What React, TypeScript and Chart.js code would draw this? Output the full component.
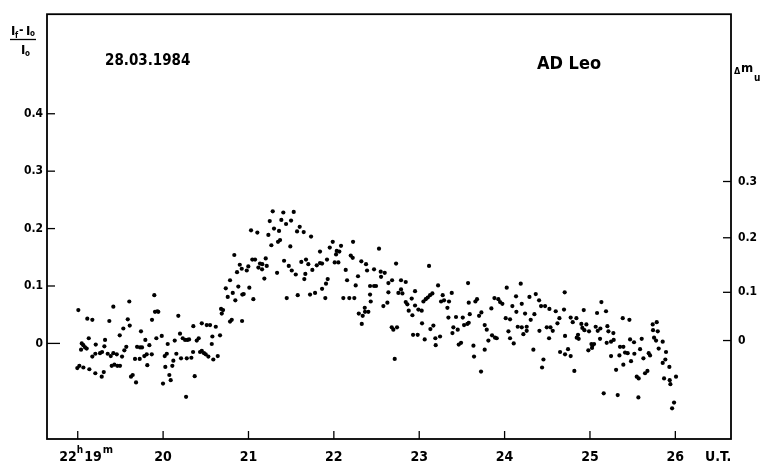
import { useEffect, useRef } from 'react';
import { Chart, registerables } from 'chart.js';

Chart.register(...registerables);

// Time axis (minutes after 22h, U.T.)
const xTickValues = [19, 20, 21, 22, 23, 24, 25, 26];
const xTickLabels = ['', '20', '21', '22', '23', '24', '25', '26'];
const xMin = 18.64;
const xMax = 26.652;

// Left axis: relative intensity (If - Io)/Io
const leftTickValues = [0, 0.1, 0.2, 0.3, 0.4];
const leftTickLabels = ['0', '0.1', '0.2', '0.3', '0.4'];
const yMin = -0.1665;
const yMax = 0.5734;

// Right axis: magnitude Δm_u, tick positions expressed in intensity units
const magTickValues = [0.005, 0.089, 0.184, 0.282];
const magTickLabels = ['0', '0.1', '0.2', '0.3'];

// Observations [minute, intensity]
const obs19to20: number[][] = [
  [19.007, 0.058], [19.112, 0.043], [19.171, 0.041], [19.417, 0.064], [19.604, 0.073], [19.897, 0.084],
  [19.905, 0.055], [19.932, 0.056], [19.944, 0.055], [19.370, 0.039], [19.586, 0.042], [19.870, 0.041],
  [20.178, 0.048], [19.534, 0.026], [19.609, 0.031], [19.741, 0.021], [19.129, 0.009], [19.047, 0.000],
  [19.066, -0.003], [19.086, -0.007], [19.105, -0.009], [19.039, -0.011], [19.211, -0.002], [19.320, 0.006],
  [19.312, -0.005], [19.261, -0.017], [19.285, -0.015], [19.206, -0.018], [19.171, -0.023], [19.351, -0.018],
  [19.387, -0.022], [19.417, -0.017], [19.457, -0.019], [19.519, -0.023], [19.546, -0.012], [19.569, -0.006],
  [19.492, 0.014], [19.695, -0.006], [19.730, -0.007], [19.753, -0.007], [19.792, 0.006], [19.839, -0.003],
  [19.921, 0.009], [19.984, 0.013], [20.054, -0.001], [20.136, 0.005], [20.198, 0.017], [20.230, 0.009],
  [20.257, 0.006], [20.284, 0.006], [20.304, 0.007], [20.354, 0.030], [20.394, 0.005], [20.417, 0.009],
  [19.671, -0.027], [19.726, -0.027], [19.780, -0.022], [19.808, -0.019], [19.867, -0.019], [19.815, -0.038],
  [20.019, -0.022], [20.043, -0.018], [20.026, -0.041], [20.120, -0.030], [20.108, -0.039], [20.155, -0.018],
  [20.210, -0.026], [20.277, -0.026], [20.331, -0.025], [20.351, -0.015], [18.995, -0.043], [19.019, -0.039],
  [19.066, -0.042], [19.136, -0.045], [19.206, -0.052], [19.281, -0.058], [19.305, -0.050], [19.398, -0.039],
  [19.429, -0.037], [19.464, -0.039], [19.495, -0.039], [19.624, -0.058], [19.644, -0.055], [19.683, -0.068],
  [19.999, -0.070], [20.073, -0.055], [20.089, -0.064], [20.269, -0.093], [20.370, -0.057],
];

const obs20to22: number[][] = [
  [21.284, 0.230], [21.408, 0.228], [21.530, 0.229], [21.249, 0.213], [21.385, 0.215], [21.440, 0.208],
  [21.499, 0.214], [21.600, 0.203], [21.569, 0.195], [21.647, 0.194], [21.030, 0.197], [21.104, 0.193],
  [21.299, 0.200], [21.358, 0.196], [21.233, 0.189], [21.346, 0.177], [21.370, 0.180], [21.268, 0.171],
  [21.733, 0.186], [21.490, 0.169], [20.834, 0.154], [21.045, 0.146], [21.077, 0.146], [21.202, 0.148],
  [20.898, 0.137], [20.921, 0.130], [20.866, 0.124], [20.998, 0.134], [20.980, 0.127], [21.135, 0.139],
  [21.162, 0.138], [21.116, 0.132], [21.159, 0.129], [21.214, 0.135], [21.186, 0.113], [21.335, 0.123],
  [21.417, 0.144], [21.472, 0.135], [21.507, 0.127], [21.554, 0.120], [21.619, 0.142], [21.674, 0.146],
  [21.701, 0.138], [21.666, 0.121], [21.654, 0.112], [21.748, 0.128], [21.800, 0.136], [21.838, 0.140],
  [21.862, 0.139], [21.920, 0.146], [21.838, 0.160], [21.952, 0.167], [21.987, 0.177], [22.026, 0.155],
  [22.034, 0.161], [22.064, 0.160], [22.084, 0.170], [22.225, 0.177], [22.198, 0.153], [22.221, 0.149],
  [22.010, 0.141], [22.053, 0.141], [22.139, 0.128], [21.928, 0.112], [21.908, 0.104], [21.862, 0.095],
  [21.780, 0.088], [21.721, 0.085], [21.577, 0.084], [21.448, 0.079], [21.900, 0.079], [22.111, 0.079],
  [22.181, 0.079], [22.240, 0.079], [22.283, 0.117], [22.322, 0.143], [22.377, 0.138], [22.389, 0.127],
  [22.155, 0.110], [22.256, 0.101], [22.362, 0.062], [22.365, 0.055], [22.404, 0.055], [22.292, 0.052],
  [22.338, 0.048], [22.327, 0.034], [20.784, 0.110], [20.734, 0.096], [20.816, 0.088], [20.881, 0.099],
  [20.944, 0.086], [20.928, 0.085], [21.010, 0.097], [20.757, 0.081], [20.846, 0.075], [21.057, 0.077],
  [20.679, 0.060], [20.702, 0.058], [20.687, 0.052], [20.784, 0.038], [20.804, 0.041], [20.925, 0.039],
  [20.453, 0.035], [20.511, 0.032], [20.550, 0.032], [20.617, 0.029], [20.577, 0.012], [20.667, 0.014],
  [20.570, -0.001], [20.453, -0.013], [20.479, -0.017], [20.499, -0.019], [20.530, -0.023], [20.588, -0.028],
  [20.640, -0.022], [20.433, -0.015],
];

const obs22to24: number[][] = [
  [22.529, 0.165], [22.471, 0.129], [22.549, 0.125], [22.596, 0.123], [22.553, 0.116], [22.424, 0.100],
  [22.471, 0.100], [22.494, 0.100], [22.729, 0.139], [23.115, 0.135], [22.639, 0.105], [22.682, 0.110],
  [22.787, 0.110], [22.842, 0.107], [22.424, 0.085], [22.432, 0.073], [22.639, 0.089], [22.627, 0.071],
  [22.580, 0.065], [22.756, 0.088], [22.803, 0.087], [22.787, 0.094], [22.951, 0.091], [22.912, 0.078],
  [22.842, 0.072], [22.861, 0.068], [22.877, 0.057], [22.920, 0.049], [22.951, 0.066], [22.990, 0.059],
  [23.029, 0.057], [23.049, 0.073], [23.076, 0.077], [23.100, 0.080], [23.127, 0.084], [23.154, 0.087],
  [23.221, 0.101], [23.275, 0.084], [23.256, 0.073], [23.291, 0.075], [23.349, 0.073], [23.381, 0.088],
  [23.330, 0.062], [23.342, 0.045], [23.572, 0.105], [23.580, 0.071], [23.658, 0.073], [23.677, 0.077],
  [23.592, 0.051], [23.431, 0.046], [23.510, 0.045], [23.580, 0.036], [23.451, 0.024], [23.400, 0.028],
  [23.389, 0.018], [23.728, 0.054], [23.701, 0.048], [23.767, 0.032], [23.791, 0.024], [23.463, -0.002],
  [23.490, 0.001], [23.525, 0.032], [23.564, 0.034], [23.635, -0.004], [23.033, 0.035], [22.678, 0.028],
  [22.697, 0.024], [22.740, 0.028], [22.928, 0.015], [22.982, 0.015], [23.064, 0.007], [23.131, 0.025],
  [23.166, 0.031], [23.189, 0.009], [23.244, 0.012], [23.193, -0.003], [22.713, -0.027], [23.642, -0.023],
  [23.767, -0.011], [23.810, 0.005], [23.853, 0.014], [23.888, 0.010], [23.908, 0.009], [23.881, 0.079],
  [23.927, 0.077], [23.947, 0.072], [23.974, 0.069], [23.845, 0.061], [24.025, 0.097], [24.013, 0.044],
  [24.064, 0.042], [24.045, 0.021], [24.064, 0.009], [24.107, 0.000], [24.091, 0.065], [24.138, 0.055],
  [24.134, 0.082], [24.189, 0.104], [24.201, 0.069], [24.154, 0.029], [24.201, 0.028], [24.259, 0.029],
  [24.240, 0.052], [24.220, 0.016], [24.291, 0.081], [24.365, 0.086], [24.349, 0.051], [24.306, 0.041],
  [24.259, 0.022], [24.404, 0.075], [24.427, 0.065], [24.474, 0.065], [24.408, 0.022], [24.337, -0.011],
  [24.455, -0.028], [24.439, -0.042], [24.494, 0.028], [24.537, 0.028], [24.564, 0.022], [24.525, 0.060],
  [24.521, 0.009], [24.599, 0.056], [24.619, 0.035], [24.642, 0.044], [23.724, -0.049],
];

const obs24to26: number[][] = [
  [24.704, 0.089], [24.696, 0.059], [25.134, 0.072], [24.927, 0.058], [25.083, 0.053], [25.188, 0.056],
  [24.774, 0.045], [24.798, 0.037], [24.841, 0.044], [24.899, 0.034], [24.958, 0.033], [24.911, 0.027],
  [24.935, 0.023], [24.989, 0.021], [25.067, 0.029], [25.091, 0.022], [25.122, 0.026], [25.118, 0.008],
  [25.204, 0.030], [25.216, 0.021], [25.274, 0.018], [24.860, 0.015], [24.845, 0.010], [24.868, 0.008],
  [24.708, 0.013], [25.017, -0.001], [25.028, -0.004], [25.048, -0.001], [25.024, -0.008], [25.196, 0.001],
  [25.247, 0.003], [25.278, 0.006], [24.981, -0.012], [24.650, -0.015], [24.708, -0.019], [24.743, -0.010],
  [24.774, -0.022], [25.384, 0.044], [25.462, 0.041], [25.735, 0.033], [25.782, 0.037], [25.739, 0.023],
  [25.794, 0.021], [25.751, 0.010], [25.774, 0.005], [25.852, 0.003], [25.470, 0.007], [25.516, 0.002],
  [25.606, 0.008], [25.352, -0.006], [25.391, -0.006], [25.411, -0.016], [25.442, -0.017], [25.587, -0.010],
  [25.247, -0.022], [25.345, -0.021], [25.520, -0.018], [25.688, -0.017], [25.704, -0.021], [25.626, -0.026],
  [25.481, -0.031], [25.391, -0.037], [25.805, -0.009], [25.891, -0.015], [25.883, -0.028], [25.852, -0.034],
  [25.930, -0.041], [25.306, -0.046], [25.673, -0.048], [25.645, -0.052], [25.548, -0.058], [25.571, -0.061],
  [25.868, -0.061], [25.934, -0.064], [25.942, -0.071], [26.008, -0.058], [24.817, -0.048], [25.161, -0.087],
  [25.325, -0.090], [25.567, -0.094], [25.985, -0.103], [25.962, -0.113],
];

const FONT = "'Liberation Sans Narrow', 'DejaVu Sans Condensed', 'Liberation Sans', Arial, sans-serif";

const framePlugin = {
  id: 'framePlugin',
  afterDraw(chart: any) {
    const { ctx, chartArea: a, scales } = chart;
    const xs = scales.x;
    const ys = scales.y;
    const ys2 = scales.y2;
    ctx.save();
    ctx.strokeStyle = '#000';
    ctx.fillStyle = '#000';
    ctx.lineWidth = 1.8;
    ctx.strokeRect(a.left, a.top, a.right - a.left, a.bottom - a.top);

    ctx.lineWidth = 1.3;
    const line = (x1: number, y1: number, x2: number, y2: number) => {
      ctx.beginPath();
      ctx.moveTo(x1, y1);
      ctx.lineTo(x2, y2);
      ctx.stroke();
    };
    xs.ticks.forEach((t: any) => {
      const px = xs.getPixelForValue(t.value);
      line(px, a.bottom, px, a.bottom - 8);
    });
    ys.ticks.forEach((t: any) => {
      const py = ys.getPixelForValue(t.value);
      line(a.left, py, a.left + (t.value === 0 ? 13 : 8), py);
    });
    ys2.ticks.forEach((t: any) => {
      const py = ys2.getPixelForValue(t.value);
      line(a.right, py, a.right - 8, py);
    });

    // First time label 22h19m
    const labelY = xs.top + 10 + 8.4;
    const p19 = xs.getPixelForValue(19);
    ctx.textBaseline = 'middle';
    ctx.font = `bold 14px ${FONT}`;
    ctx.textAlign = 'right';
    ctx.fillText('22', p19 - 1, labelY);
    ctx.textAlign = 'left';
    ctx.font = `bold 10px ${FONT}`;
    ctx.fillText('h', p19 - 1, labelY - 7);
    const hW = ctx.measureText('h').width;
    ctx.font = `bold 14px ${FONT}`;
    ctx.fillText('19', p19 - 1 + hW + 1, labelY);
    const w19 = ctx.measureText('19').width;
    ctx.font = `bold 11px ${FONT}`;
    ctx.fillText('m', p19 + hW + w19 + 1, labelY - 7);

    // U.T.
    ctx.font = `bold 14px ${FONT}`;
    ctx.fillText('U.T.', 705, labelY);

    // Date and star name
    ctx.font = `bold 15px ${FONT}`;
    ctx.fillText('28.03.1984', 105, 61);
    ctx.font = `bold 18px ${FONT}`;
    ctx.fillText('AD Leo', 537, 64);

    // Right axis title Δm_u
    ctx.font = `bold 9px ${FONT}`;
    ctx.fillText('Δ', 734, 72);
    ctx.font = `bold 13px ${FONT}`;
    ctx.fillText('m', 741, 69);
    ctx.font = `bold 10px ${FONT}`;
    ctx.fillText('u', 754, 78);

    // Left axis title (If - Io) / Io
    ctx.font = `bold 13px ${FONT}`;
    ctx.fillText('I', 11, 32);
    ctx.font = `bold 8px ${FONT}`;
    ctx.fillText('f', 15, 36);
    ctx.font = `bold 12px ${FONT}`;
    ctx.fillText('-', 19, 31);
    ctx.font = `bold 13px ${FONT}`;
    ctx.fillText('I', 26, 32);
    ctx.font = `bold 8px ${FONT}`;
    ctx.fillText('o', 30, 34);
    ctx.lineWidth = 1.3;
    line(10, 39.5, 36, 39.5);
    ctx.font = `bold 13px ${FONT}`;
    ctx.fillText('I', 21, 51);
    ctx.font = `bold 8px ${FONT}`;
    ctx.fillText('o', 25, 54);

    ctx.restore();
  },
};

export default function App() {
  const canvasRef = useRef<HTMLCanvasElement | null>(null);

  useEffect(() => {
    if (!canvasRef.current) return;
    const points = [...obs19to20, ...obs20to22, ...obs22to24, ...obs24to26].map(([x, y]) => ({ x, y }));
    const tickFont = { family: FONT, size: 12, weight: 'bold' as const };
    const chart = new Chart(canvasRef.current, {
      type: 'scatter',
      data: {
        datasets: [
          {
            label: 'AD Leo',
            data: points,
            pointRadius: 2.1,
            pointHoverRadius: 2.1,
            pointBackgroundColor: '#000',
            pointBorderWidth: 0,
            borderColor: '#000',
          },
        ],
      },
      options: {
        animation: false,
        responsive: false,
        events: [],
        layout: { padding: { top: 8, left: 0, right: 0, bottom: 0 } },
        plugins: { legend: { display: false }, tooltip: { enabled: false } },
        scales: {
          x: {
            type: 'linear',
            position: 'bottom',
            min: xMin,
            max: xMax,
            grid: { display: false, drawTicks: false },
            border: { display: false },
            afterBuildTicks: (s: any) => {
              s.ticks = xTickValues.map((v) => ({ value: v }));
            },
            afterFit: (s: any) => {
              s.height = 31;
            },
            ticks: {
              autoSkip: false,
              maxRotation: 0,
              padding: 10,
              color: '#000',
              font: { family: FONT, size: 14, weight: 'bold' },
              callback: (_v: any, i: number) => xTickLabels[i],
            },
          },
          y: {
            type: 'linear',
            position: 'left',
            min: yMin,
            max: yMax,
            grid: { display: false, drawTicks: false },
            border: { display: false },
            afterBuildTicks: (s: any) => {
              s.ticks = leftTickValues.map((v) => ({ value: v }));
            },
            afterFit: (s: any) => {
              s.width = 47;
            },
            ticks: {
              autoSkip: false,
              padding: 4,
              color: '#000',
              font: tickFont,
              callback: (_v: any, i: number) => leftTickLabels[i],
            },
          },
          y2: {
            type: 'linear',
            position: 'right',
            min: yMin,
            max: yMax,
            grid: { display: false, drawTicks: false },
            border: { display: false },
            afterBuildTicks: (s: any) => {
              s.ticks = magTickValues.map((v) => ({ value: v }));
            },
            afterFit: (s: any) => {
              s.width = 36;
            },
            ticks: {
              autoSkip: false,
              padding: 7,
              color: '#000',
              font: tickFont,
              callback: (_v: any, i: number) => magTickLabels[i],
            },
          },
        },
      },
      plugins: [framePlugin],
    });
    return () => chart.destroy();
  }, []);

  return (
    <div style={{ position: 'absolute', left: 0, top: 0, width: 767, height: 470, background: '#fff' }}>
      <canvas ref={canvasRef} width={767} height={470} style={{ display: 'block' }} />
    </div>
  );
}
